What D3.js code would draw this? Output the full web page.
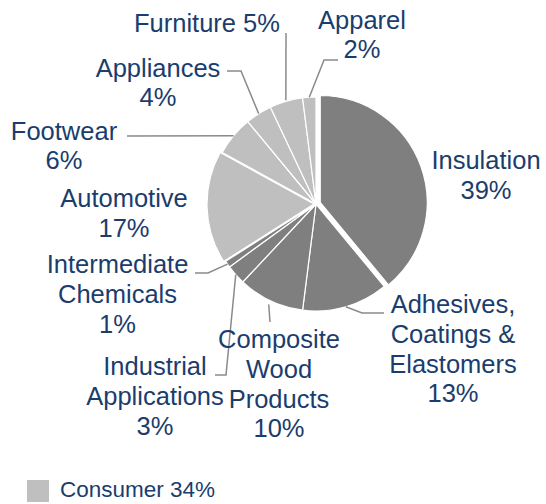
<!DOCTYPE html>
<html>
<head>
<meta charset="utf-8">
<script src="https://cdn.jsdelivr.net/npm/d3@7"></script>
<style>
  html, body { margin: 0; padding: 0; background: #ffffff; }
  svg { display: block; }
  text { font-family: "Liberation Sans", Arial, Helvetica, sans-serif; }
</style>
</head>
<body>
<svg id="chart" width="546" height="504"></svg>
<script>
// Market shares by end use, clockwise from 12 o'clock
const categories = [
  "Insulation",
  "Adhesives, Coatings & Elastomers",
  "Composite Wood Products",
  "Industrial Applications",
  "Intermediate Chemicals",
  "Automotive",
  "Footwear",
  "Appliances",
  "Furniture",
  "Apparel"
];
const shares = [39, 13, 10, 3, 1, 17, 6, 4, 5, 2];
const segments = ["Industrial", "Industrial", "Industrial", "Industrial", "Industrial",
                  "Consumer", "Consumer", "Consumer", "Consumer", "Consumer"];
// Text lines of each slice label (the last line carries the share)
const labelLines = [
  ["Insulation"],
  ["Adhesives,", "Coatings &", "Elastomers"],
  ["Composite", "Wood", "Products"],
  ["Industrial", "Applications"],
  ["Intermediate", "Chemicals"],
  ["Automotive"],
  ["Footwear"],
  ["Appliances"],
  ["Furniture"],
  ["Apparel"]
];
const legendItems = ["Consumer"];

// ---- layout ----
const cx = 316, cy = 204, radius = 107;
const lineH = 29.8;
const textColor = "#1a3d6d";
const leaderColor = "#8a8a8a";

// label anchor (centre x, first baseline y), whether the share sits on the last text line,
// pulled-out distance, and elbow points of the leader line
const layout = {
  "Insulation":                      { x: 486, y: 169,  inline: false, pull: 4.5, elbows: null },
  "Adhesives, Coatings & Elastomers":{ x: 453, y: 313,  inline: false, pull: 0, elbows: [[362, 313], [384, 313]] },
  "Composite Wood Products":         { x: 279, y: 348,  inline: false, pull: 0, elbows: [[270, 322]], r0: 4 },
  "Industrial Applications":         { x: 155, y: 375,  inline: false, pull: 0, elbows: [[226, 375], [215, 375]] },
  "Intermediate Chemicals":          { x: 117.5, y: 273, inline: false, pull: 0, elbows: [[208, 273], [195, 273]] },
  "Automotive":                      { x: 124, y: 207,  inline: false, pull: 2, elbows: null },
  "Footwear":                        { x: 64,  y: 139.5, inline: false, pull: 0, elbows: [[127, 136]] },
  "Appliances":                      { x: 158, y: 76.5, inline: false, pull: 0, elbows: [[241, 71], [227, 71]] },
  "Furniture":                       { x: 207, y: 31.5, inline: true,  pull: 0, elbows: [[286, 33]], r0: 1 },
  "Apparel":                         { x: 362, y: 28.5, inline: false, pull: 0, elbows: [[324, 60], [338, 60]] }
};

const data = categories.map((c, i) => ({
  name: c, value: shares[i], segment: segments[i], lines: labelLines[i]
}));

const color = d3.scaleOrdinal()
  .domain(["Industrial", "Consumer"])
  .range(["#7f7f7f", "#bfbfbf"]);

const pie = d3.pie().sort(null).value(d => d.value).startAngle(0).endAngle(2 * Math.PI);
const arcs = pie(data);
const arc = d3.arc().innerRadius(0).outerRadius(radius);

const svg = d3.select("#chart");
const g = svg.append("g").attr("transform", `translate(${cx},${cy})`);

function dir(a) { return [Math.sin(a), -Math.cos(a)]; }

// slices
g.selectAll("path.slice")
  .data(arcs)
  .join("path")
  .attr("class", "slice")
  .attr("d", arc)
  .attr("fill", d => color(d.data.segment))
  .attr("stroke", "#ffffff")
  .attr("stroke-width", 1.2)
  .attr("stroke-linejoin", "round")
  .attr("transform", d => {
    const p = layout[d.data.name].pull;
    const m = (d.startAngle + d.endAngle) / 2;
    const [ux, uy] = dir(m);
    return `translate(${ux * p},${uy * p})`;
  });

// leader lines from the slice rim to its label
const line = d3.line();
arcs.forEach(d => {
  const L = layout[d.data.name];
  if (!L.elbows) return;
  const m = (d.startAngle + d.endAngle) / 2;
  const rr = radius + (L.r0 || 0);
  const [ux, uy] = dir(m);
  const pts = [[cx + ux * rr, cy + uy * rr]].concat(L.elbows);
  svg.append("path")
    .attr("d", line(pts))
    .attr("fill", "none")
    .attr("stroke", leaderColor)
    .attr("stroke-width", 1.5);
});

// slice labels
arcs.forEach(d => {
  const L = layout[d.data.name];
  const lines = d.data.lines.slice();
  const pct = d.data.value + "%";
  if (L.inline) lines[lines.length - 1] += " " + pct;
  else lines.push(pct);
  const t = svg.append("text")
    .attr("x", L.x)
    .attr("y", L.y)
    .attr("text-anchor", "middle")
    .attr("font-size", "25.5px")
    .attr("fill", textColor);
  lines.forEach((s, i) => {
    t.append("tspan")
      .attr("x", L.x)
      .attr("y", L.y + i * lineH)
      .text(s);
  });
});

// legend
const consumerTotal = d3.sum(data.filter(d => d.segment === "Consumer"), d => d.value);
const legend = svg.append("g").attr("transform", "translate(27,480)");
legendItems.forEach((name, i) => {
  legend.append("rect")
    .attr("x", 0).attr("y", 0)
    .attr("width", 22).attr("height", 22)
    .attr("fill", color(name));
  legend.append("text")
    .attr("x", 33)
    .attr("y", 17)
    .attr("font-size", "22.5px")
    .attr("fill", textColor)
    .text(`${name} ${consumerTotal}%`);
});
</script>
</body>
</html>
